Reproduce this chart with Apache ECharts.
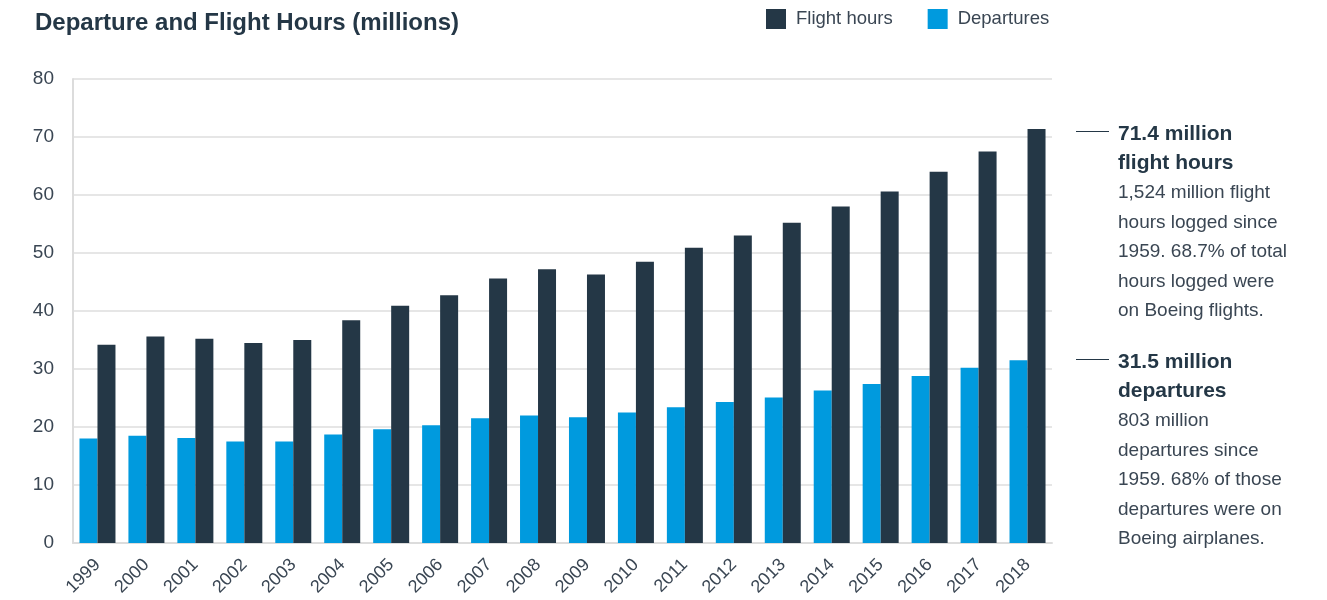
<!DOCTYPE html>
<html><head><meta charset="utf-8">
<script src="https://cdn.jsdelivr.net/npm/echarts@6/dist/echarts.min.js"></script>
<style>html,body{margin:0;padding:0;background:#fff}#c{width:1327px;height:600px}</style>
</head><body><div id="c"></div>
<script>
const years = ['1999','2000','2001','2002','2003','2004','2005','2006','2007','2008','2009','2010','2011','2012','2013','2014','2015','2016','2017','2018'];
const departures = [18.0,18.5,18.1,17.5,17.5,18.7,19.6,20.3,21.5,22.0,21.7,22.5,23.4,24.3,25.1,26.3,27.4,28.8,30.2,31.5];
const flightHours = [34.2,35.6,35.2,34.5,35.0,38.4,40.9,42.7,45.6,47.2,46.3,48.5,50.9,53.0,55.2,58.0,60.6,64.0,67.5,71.4];
const yTicks = [0,10,20,30,40,50,60,70,80];
const note1 = ['71.4 million','flight hours'];
const note1Body = ['1,524 million flight','hours logged since','1959. 68.7% of total','hours logged were','on Boeing flights.'];
const note2 = ['31.5 million','departures'];
const note2Body = ['803 million','departures since','1959. 68% of those','departures were on','Boeing airplanes.'];

const DARK = '#243746', BLUE = '#009ade', TXT = '#3a4653';
const FONT = '"Liberation Sans", Arial, Helvetica, sans-serif';
const chart = echarts.init(document.getElementById('c'));

function noteGraphics(lineY, head, body) {
  const g = [];
  g.push({type:'line', shape:{x1:1076,y1:lineY+0.5,x2:1109,y2:lineY+0.5}, style:{stroke:DARK,lineWidth:1}});
  head.forEach((t,i)=>g.push({type:'text', x:1118, y:lineY+3+i*29.5,
    style:{text:t, font:'bold 21px '+FONT, fill:DARK, verticalAlign:'middle'}}));
  body.forEach((t,i)=>g.push({type:'text', x:1118, y:lineY+3+(i+2)*29.5,
    style:{text:t, font:'19px '+FONT, fill:TXT, verticalAlign:'middle'}}));
  return g;
}

chart.setOption({
  animation:false,
  textStyle:{fontFamily:FONT},
  title:{text:'Departure and Flight Hours (millions)', left:30, top:6,
    textStyle:{fontSize:24, fontWeight:'bold', color:DARK, fontFamily:FONT}},
  legend:{data:['Flight hours','Departures'], left:766, top:9, padding:0, itemWidth:20, itemHeight:20, itemGap:35,
    icon:'rect', textStyle:{fontSize:18.5, color:TXT, fontFamily:FONT, padding:[0,0,0,5]}},
  grid:{left:73, right:275, top:79, bottom:57, containLabel:false},
  xAxis:{type:'category', data:years,
    axisLine:{show:true, lineStyle:{color:'#dcdcdc', width:2}},
    axisTick:{show:false},
    axisLabel:{rotate:45, fontSize:18, color:TXT, margin:19, fontFamily:FONT}},
  yAxis:{type:'value', min:0, max:80, interval:10,
    axisLine:{show:true, lineStyle:{color:'#dcdcdc', width:2}},
    axisTick:{show:false},
    splitLine:{lineStyle:{color:'#e6e6e6', width:2}},
    axisLabel:{fontSize:19, color:TXT, margin:19, fontFamily:FONT, padding:[0,0,8,0],
      formatter:v=>yTicks.includes(v)?String(v):''}},
  series:[
    {name:'Departures', type:'bar', data:departures, barWidth:18, barGap:'0%', itemStyle:{color:BLUE}},
    {name:'Flight hours', type:'bar', data:flightHours, barWidth:18, barGap:'0%', itemStyle:{color:DARK}}
  ],
  graphic: noteGraphics(131, note1, note1Body).concat(noteGraphics(359, note2, note2Body))
});
</script></body></html>
